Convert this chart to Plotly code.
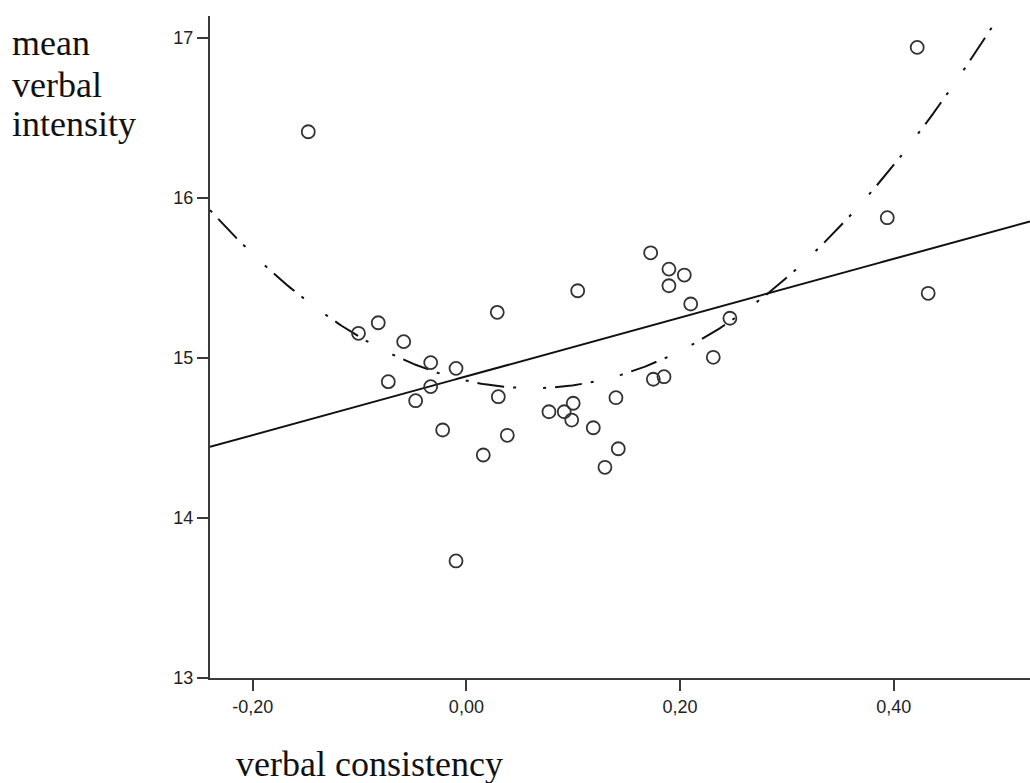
import numpy as np
import plotly.graph_objects as go

# verbal consistency (x) and mean verbal intensity (y)
consistency = [
    -0.148, -0.0825, -0.101, -0.0587, -0.0334, -0.0097, -0.0731, -0.0334,
    0.0299, -0.0475, -0.0222, 0.0383, 0.0158, -0.0097, 0.0289,
    0.1725, 0.1896, 0.204, 0.1896, 0.1042, 0.210, 0.2467, 0.2311,
    0.185, 0.175, 0.140, 0.100, 0.0773, 0.0916, 0.0986, 0.1188,
    0.1422, 0.1297, 0.422, 0.394, 0.4323,
]
intensity = [
    16.412, 15.219, 15.153, 15.101, 14.970, 14.934, 14.851, 14.820,
    14.757, 14.732, 14.549, 14.516, 14.393, 13.731, 15.284,
    15.656, 15.554, 15.517, 15.450, 15.419, 15.336, 15.247, 15.003,
    14.882, 14.866, 14.751, 14.716, 14.663, 14.663, 14.611, 14.563,
    14.432, 14.316, 16.939, 15.875, 15.403,
]

# fitted models as drawn in the chart (coefficients)
linear_fit = [1.835, 14.884]             # slope, intercept
quadratic_fit = [12.2, -1.5128, 14.8569]  # x^2, x, constant

x_tickvals = [-0.2, 0.0, 0.2, 0.4]
x_ticktext = ["-0,20", "0,00", "0,20", "0,40"]
y_tickvals = [13, 14, 15, 16, 17]
y_ticktext = ["13", "14", "15", "16", "17"]
x_range = [-0.240, 0.5276]
y_range = [13.0, 17.135]

xs = np.linspace(x_range[0], x_range[1], 400)

fig = go.Figure()
fig.add_trace(go.Scatter(
    x=xs, y=np.polyval(linear_fit, xs), mode="lines",
    line=dict(color="#111111", width=2), hoverinfo="skip", showlegend=False,
))
fig.add_trace(go.Scatter(
    x=xs, y=np.polyval(quadratic_fit, xs), mode="lines",
    line=dict(color="#111111", width=2, dash="3px,9px,27px,9px,3px,27px"),
    hoverinfo="skip", showlegend=False,
))
fig.add_trace(go.Scatter(
    x=consistency, y=intensity, mode="markers",
    marker=dict(symbol="circle-open", size=13, color="#333333",
                line=dict(width=1.8, color="#333333")),
    showlegend=False,
))

tick_font = dict(family="Liberation Sans, Arial, sans-serif", size=18, color="#222222")
fig.update_xaxes(
    range=x_range, tickvals=x_tickvals, ticktext=x_ticktext,
    showgrid=False, zeroline=False, showline=True,
    linecolor="#3a3a3a", linewidth=2,
    ticks="outside", ticklen=11, tickwidth=2, tickcolor="#3a3a3a",
    tickfont=tick_font, ticklabelstandoff=0,
)
fig.update_yaxes(
    range=y_range, tickvals=y_tickvals, ticktext=y_ticktext,
    showgrid=False, zeroline=False, showline=True,
    linecolor="#3a3a3a", linewidth=2,
    ticks="outside", ticklen=11, tickwidth=2, tickcolor="#3a3a3a",
    tickfont=tick_font, ticklabelstandoff=0,
)

serif = dict(family="Liberation Serif, Times New Roman, serif", size=36, color="#111111")
label_lines = ["mean", "verbal", "intensity"]
label_centers_y = [0.9592, 0.8958, 0.8369]
for txt, yy in zip(label_lines, label_centers_y):
    fig.add_annotation(text=txt, xref="paper", yref="paper", x=-0.2443, y=yy,
                       xanchor="left", yanchor="middle", showarrow=False, font=serif)
fig.add_annotation(text="verbal consistency", xref="paper", yref="paper",
                   x=0.0289, y=-0.1299, xanchor="left", yanchor="middle",
                   showarrow=False, font=serif)

fig.update_layout(
    width=1030, height=783,
    margin=dict(l=210, r=0, t=16, b=105),
    plot_bgcolor="white", paper_bgcolor="white",
    showlegend=False,
)
fig.write_html(
    "out.html",
    config={"displayModeBar": False},
    post_script="document.body.style.margin='0';"
                "document.documentElement.style.overflow='hidden';",
)
